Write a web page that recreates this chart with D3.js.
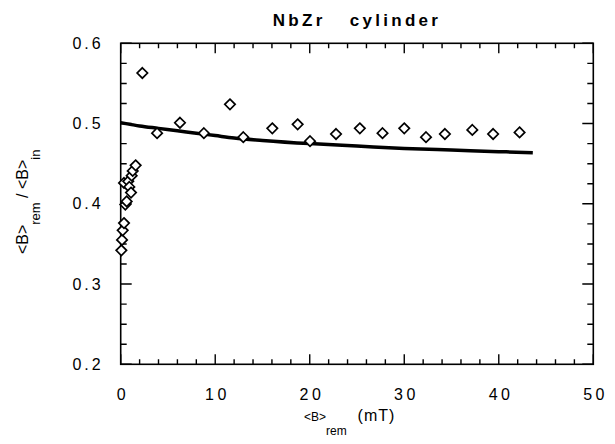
<!DOCTYPE html>
<html><head><meta charset="utf-8">
<script src="https://cdn.jsdelivr.net/npm/d3@7"></script>
<style>
body{margin:0;background:#fff;}
svg{display:block;}
text{font-family:"Liberation Sans",Arial,Helvetica,sans-serif;fill:#000;}
</style></head>
<body>
<svg id="chart" width="615" height="444"></svg>
<script>
// ---- data ----
const pointsX = [0.07,0.14,0.21,0.35,0.49,0.63,0.35,0.80,0.91,1.09,1.16,1.27,1.58,2.29,3.85,6.27,8.8,11.56,12.97,16.04,18.72,20.03,22.78,25.3,27.7,30.0,32.3,34.3,37.2,39.4,42.2];
const pointsY = [0.342,0.355,0.367,0.376,0.399,0.403,0.426,0.428,0.421,0.414,0.435,0.441,0.448,0.563,0.488,0.501,0.488,0.524,0.483,0.494,0.499,0.478,0.487,0.494,0.488,0.494,0.483,0.487,0.492,0.487,0.489];
const curveX = [0,1,2,4,6,8,10,12,15,20,25,30,35,40,43.6];
const curveY = [0.501,0.499,0.497,0.494,0.491,0.488,0.485,0.482,0.479,0.475,0.472,0.469,0.467,0.465,0.4637];
const xTicks = [0,10,20,30,40,50];
const yTicks = [0.2,0.3,0.4,0.5,0.6];
const xMinor = d3.range(0,50.001,2).filter(v=>v%10!==0);
const yMinor = d3.range(0.2,0.6001,0.025).map(v=>+v.toFixed(3)).filter(v=>Math.abs(v*10-Math.round(v*10))>1e-6);
const titleText = "NbZr   cylinder";

// ---- layout ----
const L=120.7, R=593.3, T=43.3, B=364.3;
const svg = d3.select("#chart");
const x = d3.scaleLinear().domain([0,50]).range([L,R]);
const y = d3.scaleLinear().domain([0.2,0.6]).range([B,T]);

// frame
svg.append("rect").attr("x",L).attr("y",T).attr("width",R-L).attr("height",B-T)
  .attr("fill","none").attr("stroke","#000").attr("stroke-width",1.6);

// tick labels via d3 axes
svg.append("g").attr("transform",`translate(0,${B})`)
  .call(d3.axisBottom(x).tickValues(xTicks).tickSize(0).tickPadding(24).tickFormat(d3.format("d")))
  .call(g=>{g.select(".domain").remove(); g.selectAll("line").remove();})
  .call(g=>g.selectAll("text").attr("font-size",16).attr("letter-spacing","3.5px").attr("dx","1.75px"));
svg.append("g").attr("transform",`translate(${L},0)`)
  .call(d3.axisLeft(y).tickValues(yTicks).tickSize(0).tickPadding(20).tickFormat(d3.format(".1f")))
  .call(g=>{g.select(".domain").remove(); g.selectAll("line").remove();})
  .call(g=>g.selectAll("text").attr("font-size",16).attr("letter-spacing","3px").attr("dx","3px"));

// tick marks on all four sides, inward
const tickPath = [];
xTicks.forEach(v=>{tickPath.push(`M${x(v)},${B}V${B-10}`, `M${x(v)},${T}V${T+10}`);});
xMinor.forEach(v=>{tickPath.push(`M${x(v)},${B}V${B-5}`, `M${x(v)},${T}V${T+5}`);});
yTicks.forEach(v=>{tickPath.push(`M${L},${y(v)}H${L+11}`, `M${R},${y(v)}H${R-11}`);});
yMinor.forEach(v=>{tickPath.push(`M${L},${y(v)}H${L+6}`, `M${R},${y(v)}H${R-6}`);});
svg.append("path").attr("d",tickPath.join("")).attr("fill","none")
  .attr("stroke","#000").attr("stroke-width",1.4);

// curve
const line = d3.line().x((d,i)=>x(curveX[i])).y(d=>y(d)).curve(d3.curveMonotoneX);
svg.append("path").datum(curveY).attr("d",line).attr("fill","none")
  .attr("stroke","#000").attr("stroke-width",3.5).attr("stroke-linecap","butt");

// diamonds
const pts = pointsX.map((v,i)=>({x:v,y:pointsY[i]}));
const s = 5.2;
svg.append("g").selectAll("path").data(pts).join("path")
  .attr("d",d=>{const cx=x(d.x), cy=y(d.y); return `M${cx},${cy-s}L${cx+s},${cy}L${cx},${cy+s}L${cx-s},${cy}Z`;})
  .attr("fill","#fff").attr("stroke","#000").attr("stroke-width",1.7);

// title
svg.append("text").attr("x",(L+R)/2).attr("y",26).attr("text-anchor","middle")
  .attr("font-size",17).attr("font-weight","bold").attr("letter-spacing","3.3px")
  .style("white-space","pre").text(titleText);

// x label
const xl = svg.append("text").attr("x",304).attr("y",421).attr("text-anchor","start").style("white-space","pre");
xl.append("tspan").attr("font-size",12).text("<B>");
xl.append("tspan").attr("font-size",12).attr("dy",14).text("rem");
xl.append("tspan").attr("font-size",16).attr("dy",-14).attr("letter-spacing","1px").text("  (mT)");

// y label
const yl = svg.append("text").attr("transform",`translate(28,${(T+B)/2-2}) rotate(-90)`).attr("text-anchor","middle").style("white-space","pre");
yl.append("tspan").attr("font-size",16).text("<B>");
yl.append("tspan").attr("font-size",13).attr("dy",12).text("rem");
yl.append("tspan").attr("font-size",16).attr("dy",-12).text(" / <B>");
yl.append("tspan").attr("font-size",13).attr("dy",12).text("in");
</script>
</body></html>
